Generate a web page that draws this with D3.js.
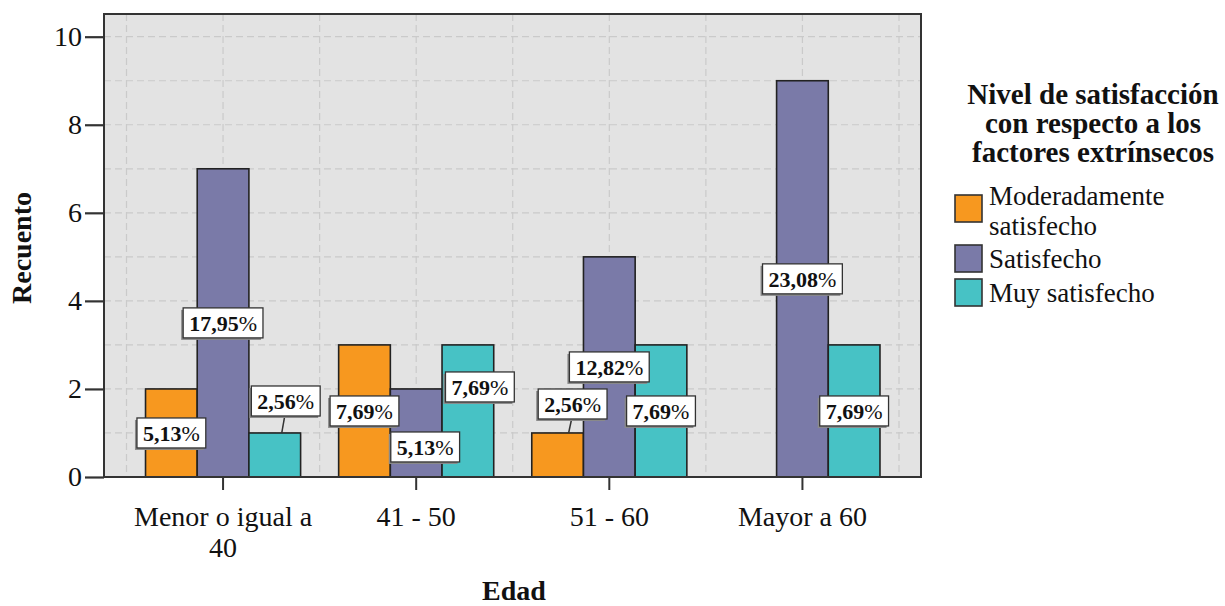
<!DOCTYPE html>
<html>
<head>
<meta charset="utf-8">
<script src="https://cdn.jsdelivr.net/npm/d3@7"></script>
<style>
  body { margin: 0; background: #fff; }
  text { font-family: "Liberation Serif", "Times New Roman", serif; fill: #111; }
</style>
</head>
<body>
<svg id="chart" width="1225" height="606"></svg>
<script>
// Counts per age group
const categories = ["Menor o igual a 40", "41 - 50", "51 - 60", "Mayor a 60"];
const seriesNames = ["Moderadamente satisfecho", "Satisfecho", "Muy satisfecho"];
const moderadamente = [2, 3, 1, 0];
const satisfecho = [7, 2, 5, 9];
const muySatisfecho = [1, 3, 3, 3];
const yTicks = [0, 2, 4, 6, 8, 10];

const seriesValues = [moderadamente, satisfecho, muySatisfecho];
const colors = ["#F7981F", "#7A7AA8", "#47C2C5"];

// Label placement nudges (px) for labels that would collide: key = "series-category"
const labelNudge = {
  "2-0": [11, -54],
  "1-1": [9, 14],
  "2-1": [12, -24],
  "0-2": [15, -51]
};

const svg = d3.select("#chart");
const plot = { left: 104, right: 921, top: 14, bottom: 477 };

const y = d3.scaleLinear().domain([0, 10]).range([477, 36.7]);
const x0 = d3.scaleBand().domain(categories).range([126.5, 899])
  .paddingInner(0.197).paddingOuter(0.0985);
const x1 = d3.scaleBand().domain(d3.range(seriesNames.length)).range([0, x0.bandwidth()]);

// plot background
svg.append("rect")
  .attr("x", plot.left).attr("y", plot.top)
  .attr("width", plot.right - plot.left).attr("height", plot.bottom - plot.top)
  .attr("fill", "#E3E3E3");

// dashed grid lines
const grid = svg.append("g").attr("stroke", "#CACACA").attr("stroke-width", 1.2)
  .attr("stroke-dasharray", "7,4");
grid.selectAll("line.h").data(d3.range(1, 11)).join("line")
  .attr("class", "h")
  .attr("x1", plot.left).attr("x2", plot.right)
  .attr("y1", d => y(d)).attr("y2", d => y(d));
const step = x0.step();
const vx = [];
for (let k = 0; k <= categories.length; k++) vx.push(126.5 + k * step);
categories.forEach(c => vx.push(x0(c) + x0.bandwidth() / 2));
grid.selectAll("line.v").data(vx).join("line")
  .attr("class", "v")
  .attr("y1", plot.top).attr("y2", plot.bottom)
  .attr("x1", d => d).attr("x2", d => d);

// bars
const barData = [];
seriesValues.forEach((vals, s) => vals.forEach((v, c) => barData.push({ s, c, v })));
svg.append("g").selectAll("rect").data(barData.filter(d => d.v > 0)).join("rect")
  .attr("x", d => x0(categories[d.c]) + x1(d.s))
  .attr("width", x1.bandwidth())
  .attr("y", d => y(d.v))
  .attr("height", d => y(0) - y(d.v))
  .attr("fill", d => colors[d.s])
  .attr("stroke", "#222").attr("stroke-width", 1.6);

// frame
svg.append("rect")
  .attr("x", plot.left).attr("y", plot.top)
  .attr("width", plot.right - plot.left).attr("height", plot.bottom - plot.top)
  .attr("fill", "none").attr("stroke", "#333").attr("stroke-width", 2);

// axes
const yAxis = svg.append("g").attr("transform", `translate(${plot.left},0)`)
  .call(d3.axisLeft(y).tickValues(yTicks).tickSize(19).tickPadding(3));
yAxis.select(".domain").remove();
yAxis.selectAll(".tick line").attr("stroke", "#333").attr("stroke-width", 2.2);
yAxis.selectAll(".tick text").style("font-family", "Liberation Serif").style("font-size", "28px")
  .attr("fill", "#222");

const xAxis = svg.append("g").attr("transform", `translate(0,${plot.bottom})`)
  .call(d3.axisBottom(x0).tickSize(13).tickFormat(""));
xAxis.select(".domain").remove();
xAxis.selectAll(".tick line").attr("stroke", "#333").attr("stroke-width", 2);

// category labels, wrapped
function wrapLines(str, maxW, size) {
  const tmp = svg.append("text").style("font-size", size + "px");
  const words = str.split(" ");
  const lines = [];
  let cur = "";
  words.forEach(w => {
    const test = cur ? cur + " " + w : w;
    tmp.text(test);
    if (tmp.node().getComputedTextLength() > maxW && cur) { lines.push(cur); cur = w; }
    else cur = test;
  });
  lines.push(cur);
  tmp.remove();
  return lines;
}
categories.forEach(c => {
  const lines = wrapLines(c, 190, 28);
  const t = svg.append("text")
    .attr("text-anchor", "middle")
    .style("font-size", "28px").attr("fill", "#222");
  lines.forEach((ln, i) => {
    t.append("tspan").attr("x", x0(c) + x0.bandwidth() / 2)
      .attr("y", 526 + i * 31).text(ln);
  });
});

// axis titles
svg.append("text").attr("x", 514).attr("y", 600).attr("text-anchor", "middle")
  .style("font-size", "28px").style("font-weight", "bold").text("Edad");
svg.append("text").attr("transform", "translate(31,248) rotate(-90)")
  .attr("text-anchor", "middle")
  .style("font-size", "28px").style("font-weight", "bold").text("Recuento");

// value labels (percent of total)
const total = d3.sum(seriesValues.flat());
const fmt = v => d3.format(".2f")(v / total * 100).replace(".", ",");
const labels = svg.append("g");
barData.filter(d => d.v > 0).forEach(d => {
  const bx = x0(categories[d.c]) + x1(d.s) + x1.bandwidth() / 2;
  const by = (y(d.v) + y(0)) / 2;
  const nudge = labelNudge[d.s + "-" + d.c] || [0, 0];
  const cx = bx + nudge[0], cy = by + nudge[1];
  const g = labels.append("g");
  const t = g.append("text").attr("x", cx).attr("y", cy).attr("dy", "0.35em")
    .attr("text-anchor", "middle").style("font-size", "22px");
  t.append("tspan").style("font-weight", "bold").text(fmt(d.v));
  t.append("tspan").text("%");
  const w = t.node().getComputedTextLength() + 12;
  const h = 30;
  if (nudge[1] < -30) {
    g.insert("line", "text")
      .attr("x1", cx - 4).attr("y1", y(d.v))
      .attr("x2", cx - 1).attr("y2", cy + h / 2)
      .attr("stroke", "#333").attr("stroke-width", 1.5);
  }
  g.insert("rect", "text").attr("x", cx - w / 2 - 2).attr("y", cy - h / 2 + 2)
    .attr("width", w).attr("height", h).attr("fill", "#8a8a8a");
  g.insert("rect", "text").attr("x", cx - w / 2).attr("y", cy - h / 2)
    .attr("width", w).attr("height", h)
    .attr("fill", "#fff").attr("stroke", "#333").attr("stroke-width", 1.3);
});

// legend
const legend = svg.append("g");
const titleLines = ["Nivel de satisfacción", "con respecto a los", "factores extrínsecos"];
titleLines.forEach((ln, i) => {
  legend.append("text").attr("x", 1093).attr("y", 104 + i * 29)
    .attr("text-anchor", "middle").style("font-size", "29px").style("font-weight", "bold")
    .text(ln);
});
const items = [
  { lines: ["Moderadamente", "satisfecho"], top: 195, base: 205 },
  { lines: ["Satisfecho"], top: 245, base: 268 },
  { lines: ["Muy satisfecho"], top: 279, base: 302 }
];
items.forEach((it, i) => {
  legend.append("rect").attr("x", 955).attr("y", it.top).attr("width", 27).attr("height", 27)
    .attr("fill", colors[i]).attr("stroke", "#333").attr("stroke-width", 1.6);
  it.lines.forEach((ln, j) => {
    legend.append("text").attr("x", 989).attr("y", it.base + j * 30)
      .style("font-size", "27px").attr("fill", "#222").text(ln);
  });
});
</script>
</body>
</html>
